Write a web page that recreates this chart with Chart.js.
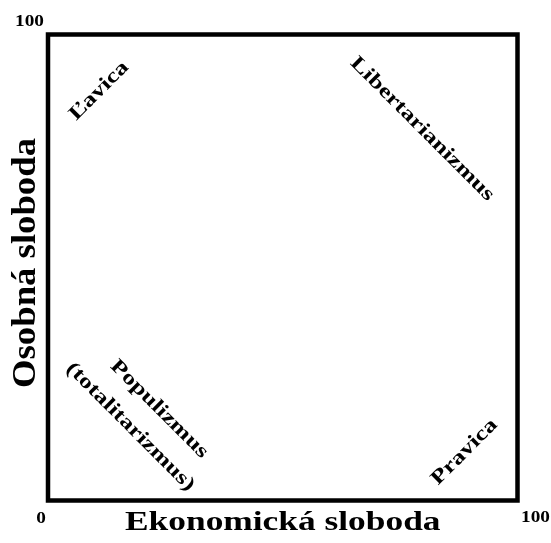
<!DOCTYPE html>
<html>
<head>
<meta charset="utf-8">
<script src="https://cdn.jsdelivr.net/npm/chart.js@4"></script>
<style>
  html, body { margin: 0; padding: 0; background: #fff; }
  #wrap { width: 551px; height: 543px; position: relative; }
</style>
</head>
<body>
<div id="wrap"><canvas id="myChart"></canvas></div>
<script>
// region labels and where they sit on the 0..100 grid
var regionNames = ['Ľavica', 'Libertarianizmus', ['Populizmus', '(totalitarizmus)'], 'Pravica'];
var regionX = [10.9, 79.7, 20.6, 88.7];
var regionY = [87.9, 79.7, 17.7, 10.4];

var xTicks = [0, 100];
var yTicks = [100];
var xTitle = 'Ekonomická sloboda';
var yTitle = 'Osobná sloboda';

var serif = '"Liberation Serif", Tinos, "Times New Roman", serif';
var labelAngles = [-Math.PI / 4, Math.PI / 4, Math.PI / 4, -Math.PI / 4];

function drawText(ctx, text, x, y, angle, size, stretch, align, baseline) {
    ctx.save();
    ctx.translate(x, y);
    ctx.rotate(angle);
    ctx.scale(stretch, 1);
    ctx.font = 'bold ' + size + 'px ' + serif;
    ctx.fillStyle = '#000';
    ctx.textAlign = align;
    ctx.textBaseline = baseline;
    ctx.fillText(text, 0, 0);
    ctx.restore();
}

var nolanPlugin = {
    id: 'nolan',
    afterDatasetsDraw: function (chart) {
        var ctx = chart.ctx;
        var area = chart.chartArea;
        var xs = chart.scales.x;
        var ys = chart.scales.y;

        // frame
        ctx.save();
        ctx.strokeStyle = '#000';
        ctx.lineWidth = 4.5;
        ctx.strokeRect(area.left, area.top, area.right - area.left, area.bottom - area.top);
        ctx.restore();

        // region labels
        var meta = chart.getDatasetMeta(0);
        meta.data.forEach(function (el, i) {
            var name = regionNames[i];
            var lines = Array.isArray(name) ? name : [name];
            var lh = 33;
            lines.forEach(function (line, j) {
                var off = (j - (lines.length - 1) / 2) * lh;
                var a = labelAngles[i];
                // shift perpendicular to the text direction
                var dx = -Math.sin(a) * off;
                var dy = Math.cos(a) * off;
                // first line sits a little further along
                var along = lines.length > 1 ? (j === 0 ? 4 : -4) : 0;
                dx += Math.cos(a) * along;
                dy += Math.sin(a) * along;
                drawText(ctx, line, el.x + dx, el.y + dy, a, 20, 1.3, 'center', 'middle');
            });
        });

        // end tick labels
        xTicks.forEach(function (v) {
            var px = xs.getPixelForValue(v);
            if (v === 0) {
                drawText(ctx, '0', px - 7, area.bottom + 22, 0, 17.7, 1.09, 'center', 'alphabetic');
            } else {
                drawText(ctx, String(v), px + 18, area.bottom + 21, 0, 17.7, 1.09, 'center', 'alphabetic');
            }
        });
        yTicks.forEach(function (v) {
            var py = ys.getPixelForValue(v);
            drawText(ctx, String(v), area.left - 18.5, py - 8.5, 0, 17.7, 1.09, 'center', 'alphabetic');
        });

        // axis titles
        var cx = (area.left + area.right) / 2;
        drawText(ctx, xTitle, cx, area.bottom + 29, 0, 26.6, 1.33, 'center', 'alphabetic');
        var cy = (area.top + area.bottom) / 2 - 4.5;
        drawText(ctx, yTitle, area.left - 13, cy, -Math.PI / 2, 34, 1.08, 'center', 'alphabetic');
    }
};

var points = regionX.map(function (x, i) { return { x: x, y: regionY[i] }; });

var myChart = new Chart(document.getElementById('myChart').getContext('2d'), {
    type: 'scatter',
    data: {
        datasets: [{
            data: points,
            pointRadius: 0,
            pointHoverRadius: 0
        }]
    },
    options: {
        responsive: true,
        maintainAspectRatio: false,
        animation: false,
        layout: { padding: { left: 48, top: 34.5, right: 33.5, bottom: 42.5 } },
        scales: {
            x: { type: 'linear', min: 0, max: 100, display: false },
            y: { type: 'linear', min: 0, max: 100, display: false }
        },
        plugins: {
            legend: { display: false },
            tooltip: { enabled: false }
        }
    },
    plugins: [nolanPlugin]
});
</script>
</body>
</html>
